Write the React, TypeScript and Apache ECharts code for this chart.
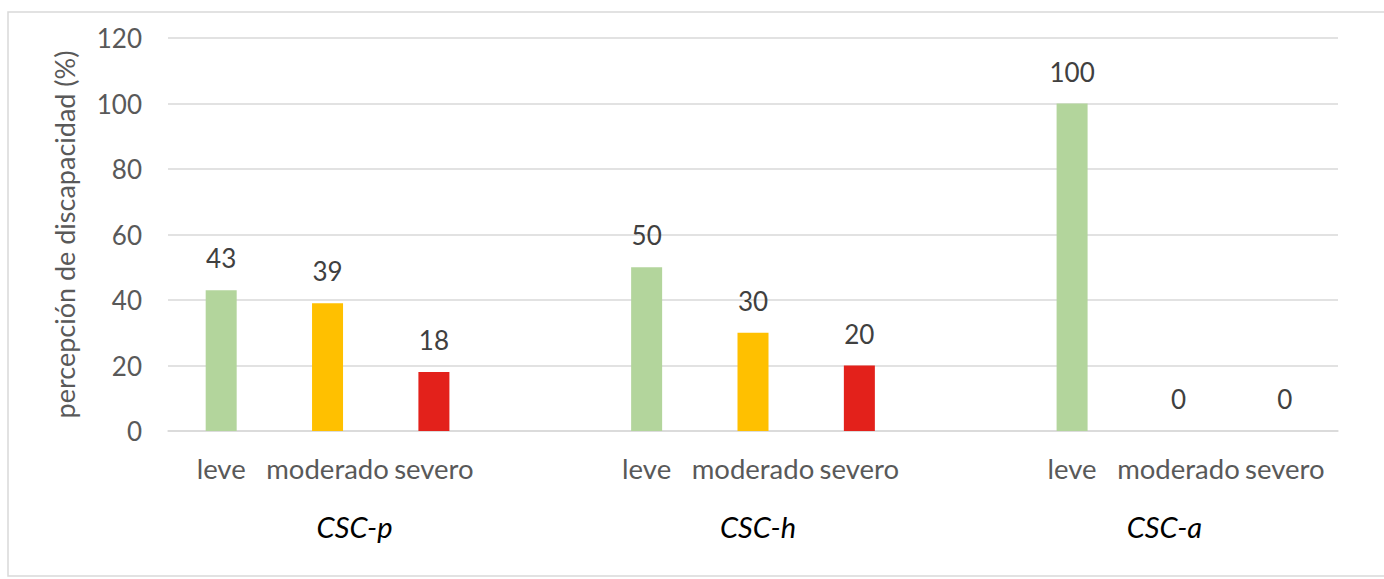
import React, { useEffect, useRef } from "react";
import * as echarts from "echarts";

const groups = ["CSC-p", "CSC-h", "CSC-a"];
const levels = ["leve", "moderado", "severo"];
const leve = [43, 50, 100];
const moderado = [39, 30, 0];
const severo = [18, 20, 0];
const levelColors = ["#B3D59C", "#FFC000", "#E3211B"];
const yTicks = { min: 0, max: 120, interval: 20 };
const yName = "percepción de discapacidad (%)";
const groupLabelPadding = [
  [0, 0, 0, 54],
  [0, 0, 0, 10],
  [0, 28, 0, 0],
];

const FONT = "Lato, 'Open Sans', sans-serif";

export default function App() {
  const ref = useRef<HTMLDivElement>(null);
  useEffect(() => {
    if (!ref.current) return;
    const chart = echarts.init(ref.current, undefined, { renderer: "svg" });
    const seriesByLevel = [leve, moderado, severo];
    const cats: string[] = [];
    const groupCats: any[] = [];
    const data: any[] = [];
    groups.forEach((g, gi) => {
      levels.forEach((lv, li) => {
        cats.push(lv + "\u200b".repeat(gi));
        groupCats.push(
          li === 1
            ? { value: g, textStyle: { padding: groupLabelPadding[gi] } }
            : "\u200b".repeat(gi * 3 + li + 1)
        );
        data.push({ value: seriesByLevel[li][gi], itemStyle: { color: levelColors[li] } });
      });
      if (gi < groups.length - 1) {
        cats.push(" ".repeat(gi + 1));
        groupCats.push(" ".repeat(gi + 1) + "\u200b");
        data.push("-");
      }
    });
    chart.setOption({
      animation: false,
      textStyle: { fontFamily: FONT },
      graphic: [
        {
          type: "rect",
          shape: { x: 8, y: 12, width: 1400, height: 564 },
          style: { fill: "none", stroke: "#d9d9d9", lineWidth: 1.5 },
          silent: true,
        },
      ],
      grid: { left: 168, right: 46, top: 38, bottom: 148 },
      xAxis: [
        {
          type: "category",
          data: cats,
          axisLine: { lineStyle: { color: "#d9d9d9", width: 1.5 } },
          axisTick: { show: false },
          axisLabel: {
            color: "#595959",
            fontSize: 27.5,
            fontFamily: FONT,
            margin: 23,
            interval: 0,
            formatter: (v: string) => v.replace(/\u200b/g, ""),
          },
        },
        {
          type: "category",
          position: "bottom",
          data: groupCats,
          axisLine: { show: false },
          axisTick: { show: false },
          axisLabel: {
            color: "#000000",
            fontSize: 29,
            fontStyle: "italic",
            fontFamily: FONT,
            margin: 81,
            interval: 0,
            formatter: (v: string) => v.replace(/\u200b/g, "").trim(),
          },
        },
      ],
      yAxis: {
        type: "value",
        min: yTicks.min,
        max: yTicks.max,
        interval: yTicks.interval,
        name: yName,
        nameLocation: "middle",
        nameGap: 90,
        nameTextStyle: { color: "#595959", fontSize: 27, fontFamily: FONT },
        axisLine: { show: false },
        axisTick: { show: false },
        axisLabel: { color: "#595959", fontSize: 26, fontFamily: FONT, margin: 26 },
        splitLine: { lineStyle: { color: "#d9d9d9", width: 1.5 } },
      },
      series: [
        {
          type: "bar",
          xAxisIndex: 0,
          barWidth: 31,
          data,
          label: {
            show: true,
            position: "top",
            distance: 19,
            color: "#404040",
            fontSize: 26,
            fontFamily: FONT,
          },
        },
      ],
    });
    return () => chart.dispose();
  }, []);
  return (
    <div
      ref={ref}
      style={{ position: "fixed", left: 0, top: 0, width: 1384, height: 579, background: "#fff" }}
    />
  );
}
